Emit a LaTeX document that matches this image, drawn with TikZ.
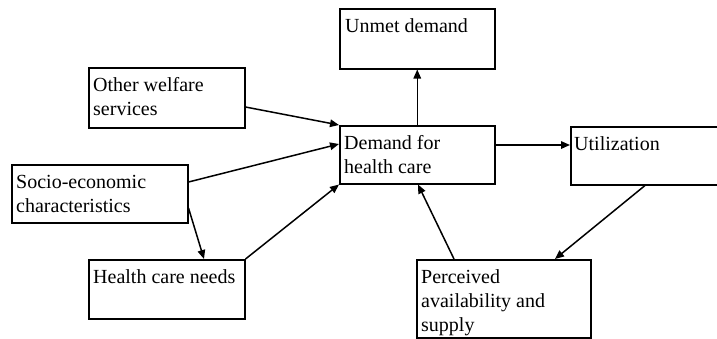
\documentclass[tikz,border=0pt]{standalone}
\usepackage{fontspec}
\setmainfont{Liberation Serif}
\usetikzlibrary{arrows.meta}
\begin{document}
\begin{tikzpicture}[x=1pt,y=-1pt,
  box/.style={draw,line width=1.5pt,rectangle,inner sep=0pt,anchor=north west},
  txt/.style={anchor=north west,inner sep=0pt,align=left,font=\fontsize{20}{24}\selectfont},
  arr/.style={line width=1.5pt,-{Triangle[length=9pt,width=7.5pt]}}]
\useasboundingbox (0,0) rectangle (717,338);
\clip (0,0) rectangle (717,338);
% boxes
\node[box,minimum width=155pt,minimum height=60pt] (unmet) at (339,8) {};
\node[box,minimum width=155pt,minimum height=58pt] (dem) at (339,125) {};
\node[box,minimum width=160pt,minimum height=58pt] (util) at (570,126) {};
\node[box,minimum width=156pt,minimum height=60pt] (oth) at (88,67) {};
\node[box,minimum width=176pt,minimum height=58pt] (soc) at (11,164) {};
\node[box,minimum width=156pt,minimum height=59pt] (needs) at (88,259) {};
\node[box,minimum width=174pt,minimum height=78pt] (perc) at (416,259) {};
% texts
\node[txt] (unmetT) at (345,15.7) {\strut Unmet demand};
\node[txt] (demT) at (344,132.7) {\strut Demand for\\health care};
\node[txt] (utilT) at (574,133.7) {\strut Utilization};
\node[txt] (othT) at (93,74.7) {\strut Other welfare\\services};
\node[txt] (socT) at (16,171.2) {\strut Socio-economic\\characteristics};
\node[txt] (needsT) at (93,266.2) {\strut Health care needs};
\node[txt] (percT) at (421,266.2) {\strut Perceived\\availability and\\supply};
% connectors
\draw[arr] (oth.east |- 0,107) -- (dem.north west);
\draw[arr] (soc.east |- 0,182) -- (dem.west |- 0,144);
\draw[arr] (soc.east |- 0,208) -- (needs.north -| 204,0);
\draw[arr] (needs.north east) -- (dem.south west);
\draw[arr] (dem.north) -- (unmet.south);
\draw[arr] (dem.east |- 0,145) -- (util.west |- 0,145);
\draw[arr] (util.south -| 645,0) -- (perc.north -| 555,0);
\draw[arr] (perc.north -| 454,0) -- (dem.south -| 418,0);
\end{tikzpicture}
\end{document}
